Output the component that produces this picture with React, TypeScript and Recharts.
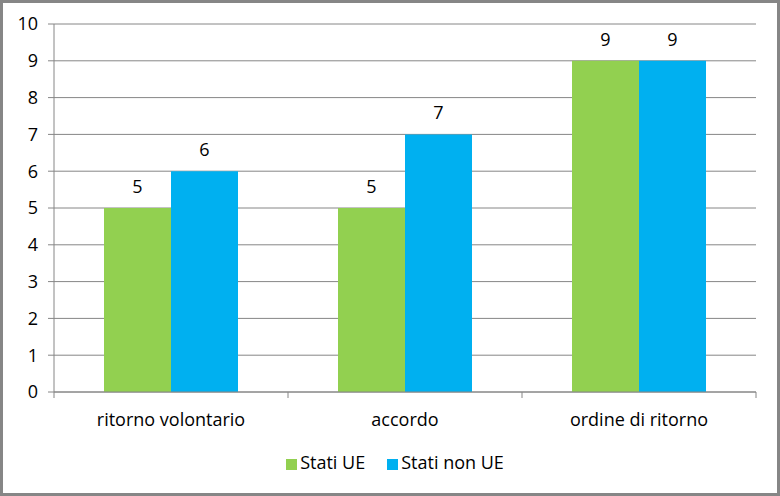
import { BarChart, Bar, XAxis, YAxis, CartesianGrid, Legend, LabelList } from 'recharts'

const categories = ['ritorno volontario', 'accordo', 'ordine di ritorno']
const statiUE = [5, 5, 9]
const statiNonUE = [6, 7, 9]
const yTicks = [0, 1, 2, 3, 4, 5, 6, 7, 8, 9, 10]

const GREEN = '#92d050'
const BLUE = '#00b0f0'
const AXIS = '#868686'
const FONT = '"Open Sans", "Noto Sans", sans-serif'
const FS = 18

const data = categories.map((c, i) => ({ name: c, ue: statiUE[i], nonUe: statiNonUE[i] }))

// category axis with tick marks at the band edges, like the original
function CategoryTick(props: any) {
  const { x, y, payload, width, visibleTicksCount } = props
  const band = width / visibleTicksCount
  return (
    <g>
      <line x1={x + band / 2} y1={y - 8} x2={x + band / 2} y2={y - 2} stroke={AXIS} />
      {payload.index === 0 && <line x1={x - band / 2} y1={y - 8} x2={x - band / 2} y2={y - 2} stroke={AXIS} />}
      <text x={x} y={y + 26} textAnchor="middle" fill="#000" fontSize={FS} fontFamily={FONT}>
        {payload.value}
      </text>
    </g>
  )
}

export default function App() {
  return (
    <div
      style={{
        position: 'absolute',
        left: 0,
        top: 0,
        width: 780,
        height: 496,
        border: `3px solid ${AXIS}`,
        boxSizing: 'border-box',
        background: '#fff',
        fontFamily: FONT,
      }}
    >
      <div style={{ position: 'absolute', left: -3, top: -3 }}>
        <BarChart
          width={780}
          height={496}
          data={data}
          margin={{ top: 24, right: 24, bottom: 40, left: 0 }}
          barCategoryGap={50}
          barGap={0}
        >
          <CartesianGrid vertical={false} stroke={AXIS} strokeWidth={1} />
          <XAxis
            dataKey="name"
            height={40}
            stroke={AXIS}
            tickLine={false}
            tick={<CategoryTick />}
            interval={0}
          />
          <YAxis
            width={54}
            domain={[0, 10]}
            ticks={yTicks}
            stroke={AXIS}
            tickSize={6}
            tickMargin={10}
            tick={{ fill: '#000', fontSize: FS, fontFamily: FONT }}
            interval={0}
          />
          <Legend
            verticalAlign="bottom"
            iconType="square"
            iconSize={11}
            wrapperStyle={{ top: 450, bottom: 'auto', left: 28, fontSize: FS, fontFamily: FONT }}
            formatter={(v: string) => <span style={{ color: '#000', marginLeft: -1, marginRight: 12 }}>{v}</span>}
          />
          <Bar dataKey="ue" name="Stati UE" fill={GREEN} isAnimationActive={false}>
            <LabelList dataKey="ue" position="top" offset={15} fill="#000" fontSize={FS} fontFamily={FONT} />
          </Bar>
          <Bar dataKey="nonUe" name="Stati non UE" fill={BLUE} isAnimationActive={false}>
            <LabelList dataKey="nonUe" position="top" offset={15} fill="#000" fontSize={FS} fontFamily={FONT} />
          </Bar>
        </BarChart>
      </div>
    </div>
  )
}
